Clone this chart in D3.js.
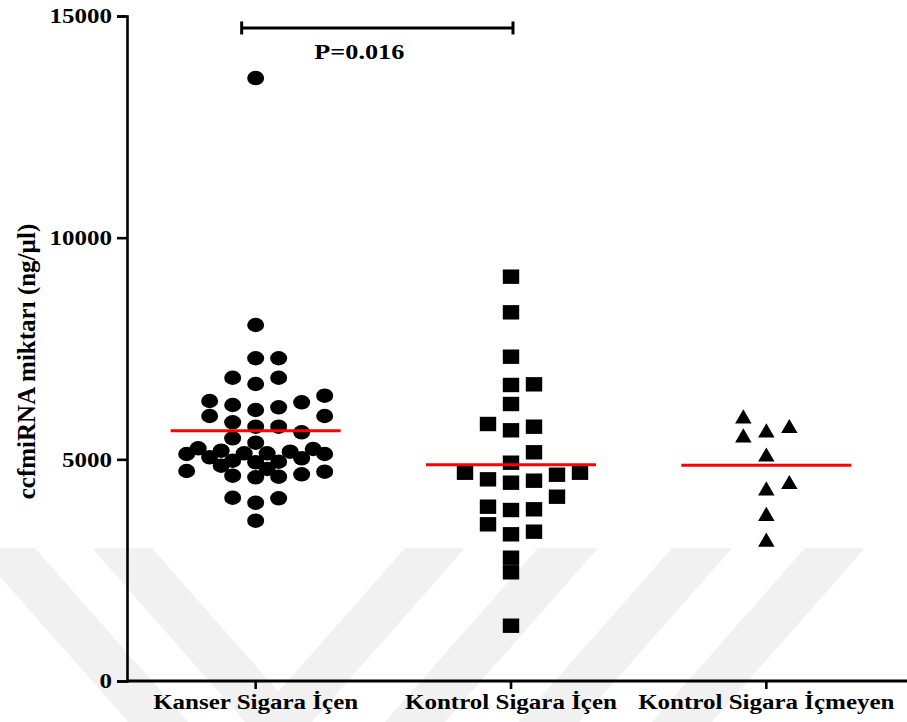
<!DOCTYPE html>
<html>
<head>
<meta charset="utf-8">
<script src="https://cdn.jsdelivr.net/npm/d3@7"></script>
<style>
  html, body { margin: 0; padding: 0; background: #fff; }
  svg { display: block; }
  text { font-family: "Liberation Serif", "Times New Roman", serif; font-weight: bold; fill: #000; }
</style>
</head>
<body>
<svg id="chart" width="907" height="722"></svg>
<script>
// Groups and their measurements (ng/µl)
const categories = ["Kanser Sigara İçen", "Kontrol Sigara İçen", "Kontrol Sigara İçmeyen"];

const kanserIcen = [
  13600, 8030, 7280, 7280, 6840, 6840, 6700,
  6435, 6316, 6286, 6225, 6174, 6113,
  5977, 5977, 5835, 5736, 5736, 5610,
  5474, 5375,
  5249, 5233, 5195, 5172, 5136, 5136, 5120, 5120, 5046, 5023, 4969, 4946, 4933, 4856,
  4782, 4737, 4721, 4662, 4631, 4608, 4595,
  4134, 4121, 4022, 3616
];

const kontrolIcen = [
  9120, 8316, 7315, 6692, 6677, 6248,
  5797, 5736, 5655, 5159,
  4924, 4698, 4698, 4653, 4549, 4518, 4473,
  4157, 3932, 3873, 3857,
  3534, 3368, 3309, 2781, 2452, 1247
];

const kontrolIcmeyen = [5970, 5752, 5655, 5541, 5109, 4489, 4346, 3771, 3188];

const yTicks = [0, 5000, 10000, 15000];
const yTitle = "ccfmiRNA miktarı (ng/µl)";
const pLabel = "P=0.016";
const pBarValue = 14730;

const seriesValues = [kanserIcen, kontrolIcen, kontrolIcmeyen];

const svg = d3.select("#chart");
const W = 907, H = 722;

const y = d3.scaleLinear().domain([0, 15000]).range([681, 16]);
const x = d3.scalePoint().domain(categories).range([128, 894]).padding(0.5);

// Light watermark bands in the lower part of the page
const wm = svg.append("g").attr("fill", "#f1f1f1");
const bandTop = 548, bandBottom = H, slope = 0.88, bandW = 60;
const backBands = [-25, 92];          // "\" bands, left edge at the top
const fwdBands = [405, 538, 672, 805]; // "/" bands, left edge at the top
const dy = bandBottom - bandTop;
backBands.forEach(l => {
  wm.append("path").attr("d",
    `M${l},${bandTop} L${l + bandW},${bandTop} L${l + bandW + slope * dy},${bandBottom} L${l + slope * dy},${bandBottom} Z`);
});
fwdBands.forEach(l => {
  wm.append("path").attr("d",
    `M${l},${bandTop} L${l + bandW},${bandTop} L${l + bandW - slope * dy},${bandBottom} L${l - slope * dy},${bandBottom} Z`);
});

const sx = 1.25; // horizontal stretch of the lettering

// Y axis
const yAxis = svg.append("g")
  .attr("transform", `translate(${x.range()[0] - 1},0)`)
  .call(d3.axisLeft(y).tickValues(yTicks).tickFormat(d3.format("d")).tickSize(10).tickSizeOuter(10));
yAxis.select(".domain").attr("stroke", "#000").attr("stroke-width", 2.6);
yAxis.selectAll(".tick line").attr("stroke", "#000").attr("stroke-width", 2.6);
yAxis.selectAll(".tick text")
  .attr("x", -15 / sx)
  .attr("dy", "0.34em")
  .attr("transform", `scale(${sx},1)`)
  .style("font-size", "20px")
  .style("font-family", "'Liberation Serif', 'Times New Roman', serif")
  .style("font-weight", "bold")
  .attr("fill", "#000");

// X axis
const x0 = x.range()[0] - 1;
const xAxisG = svg.append("g").attr("transform", `translate(0,${y(0)})`);
xAxisG.append("line").attr("x1", x0 - 1).attr("x2", W).attr("y1", 0).attr("y2", 0)
  .attr("stroke", "#000").attr("stroke-width", 3);
const xt = xAxisG.selectAll("g.cat").data(categories).join("g")
  .attr("class", "cat").attr("transform", d => `translate(${x(d)},0)`);
xt.append("line").attr("y1", 0).attr("y2", 8).attr("stroke", "#000").attr("stroke-width", 2.6);
xt.append("text")
  .attr("y", 28)
  .attr("text-anchor", "middle")
  .attr("transform", `scale(${sx},1)`)
  .style("font-size", "20px")
  .text(d => d);

// Y axis title
svg.append("text")
  .attr("transform", `translate(35,${(y(0) + y(15000)) / 2 + 13}) rotate(-90)`)
  .attr("text-anchor", "middle")
  .style("font-size", "25px")
  .text(yTitle);

// Spread the points of a group sideways: values are grouped into rows one
// marker high, each row is filled from its lowest value outwards, and a slot
// is skipped when it would sit on a marker of the row above.
function swarm(values, cx) {
  const step = 23, markerH = 14.5, rowSpan = 330;
  const slots = [0, 1, -1, 2, -2, 3, -3, 0.5, -0.5, 1.5, -1.5, 2.5, -2.5];
  const idx = values.map((v, i) => i).sort((a, b) => values[b] - values[a]);
  const rows = [];
  idx.forEach(i => {
    const row = rows[rows.length - 1];
    if (row && values[row[0]] - values[i] <= rowSpan) row.push(i);
    else rows.push([i]);
  });
  const placed = [];
  const out = new Array(values.length);
  rows.forEach(row => {
    row.slice().sort((a, b) => values[a] - values[b]).forEach(i => {
      const yy = y(values[i]);
      let col = slots.find(c =>
        !placed.some(p => p.col === c && Math.abs(p.y - yy) < markerH));
      if (col === undefined) col = 0;
      placed.push({ col, y: yy });
      out[i] = { value: values[i], x: cx + col * step, y: yy };
    });
  });
  return out;
}

const pts = svg.append("g");
const trianglePath = (w, h) => `M0,${-h / 2} L${w / 2},${h / 2} L${-w / 2},${h / 2} Z`;

// Group 1: filled circles
pts.selectAll("ellipse").data(swarm(kanserIcen, x(categories[0]))).join("ellipse")
  .attr("cx", d => d.x).attr("cy", d => d.y).attr("rx", 8.5).attr("ry", 7.2).attr("fill", "#000");

// Group 2: filled squares
pts.selectAll("rect").data(swarm(kontrolIcen, x(categories[1]))).join("rect")
  .attr("x", d => d.x - 8.2).attr("y", d => d.y - 7.2).attr("width", 16.4).attr("height", 14.4).attr("fill", "#000");

// Group 3: filled triangles
pts.selectAll("path.tri").data(swarm(kontrolIcmeyen, x(categories[2]))).join("path")
  .attr("class", "tri")
  .attr("transform", d => `translate(${d.x},${d.y})`)
  .attr("d", trianglePath(16.5, 14.2)).attr("fill", "#000");

// Mean lines
svg.append("g").selectAll("line").data(categories).join("line")
  .attr("x1", d => x(d) - 85).attr("x2", d => x(d) + 85)
  .attr("y1", (d, i) => y(d3.mean(seriesValues[i])))
  .attr("y2", (d, i) => y(d3.mean(seriesValues[i])))
  .attr("stroke", "#ff0000").attr("stroke-width", 3);

// Significance bracket between the two smoker groups
const bx1 = x(categories[0]) - 14, bx2 = x(categories[1]) + 2, by = y(pBarValue);
const br = svg.append("g").attr("stroke", "#000").attr("stroke-width", 3);
br.append("line").attr("x1", bx1).attr("x2", bx2).attr("y1", by).attr("y2", by);
br.append("line").attr("x1", bx1).attr("x2", bx1).attr("y1", by - 6.5).attr("y2", by + 6.5);
br.append("line").attr("x1", bx2).attr("x2", bx2).attr("y1", by - 6.5).attr("y2", by + 6.5);
svg.append("text")
  .attr("transform", `translate(${(bx1 + bx2) / 2 - 18},59) scale(${sx},1)`)
  .attr("text-anchor", "middle")
  .style("font-size", "21px")
  .text(pLabel);
</script>
</body>
</html>
